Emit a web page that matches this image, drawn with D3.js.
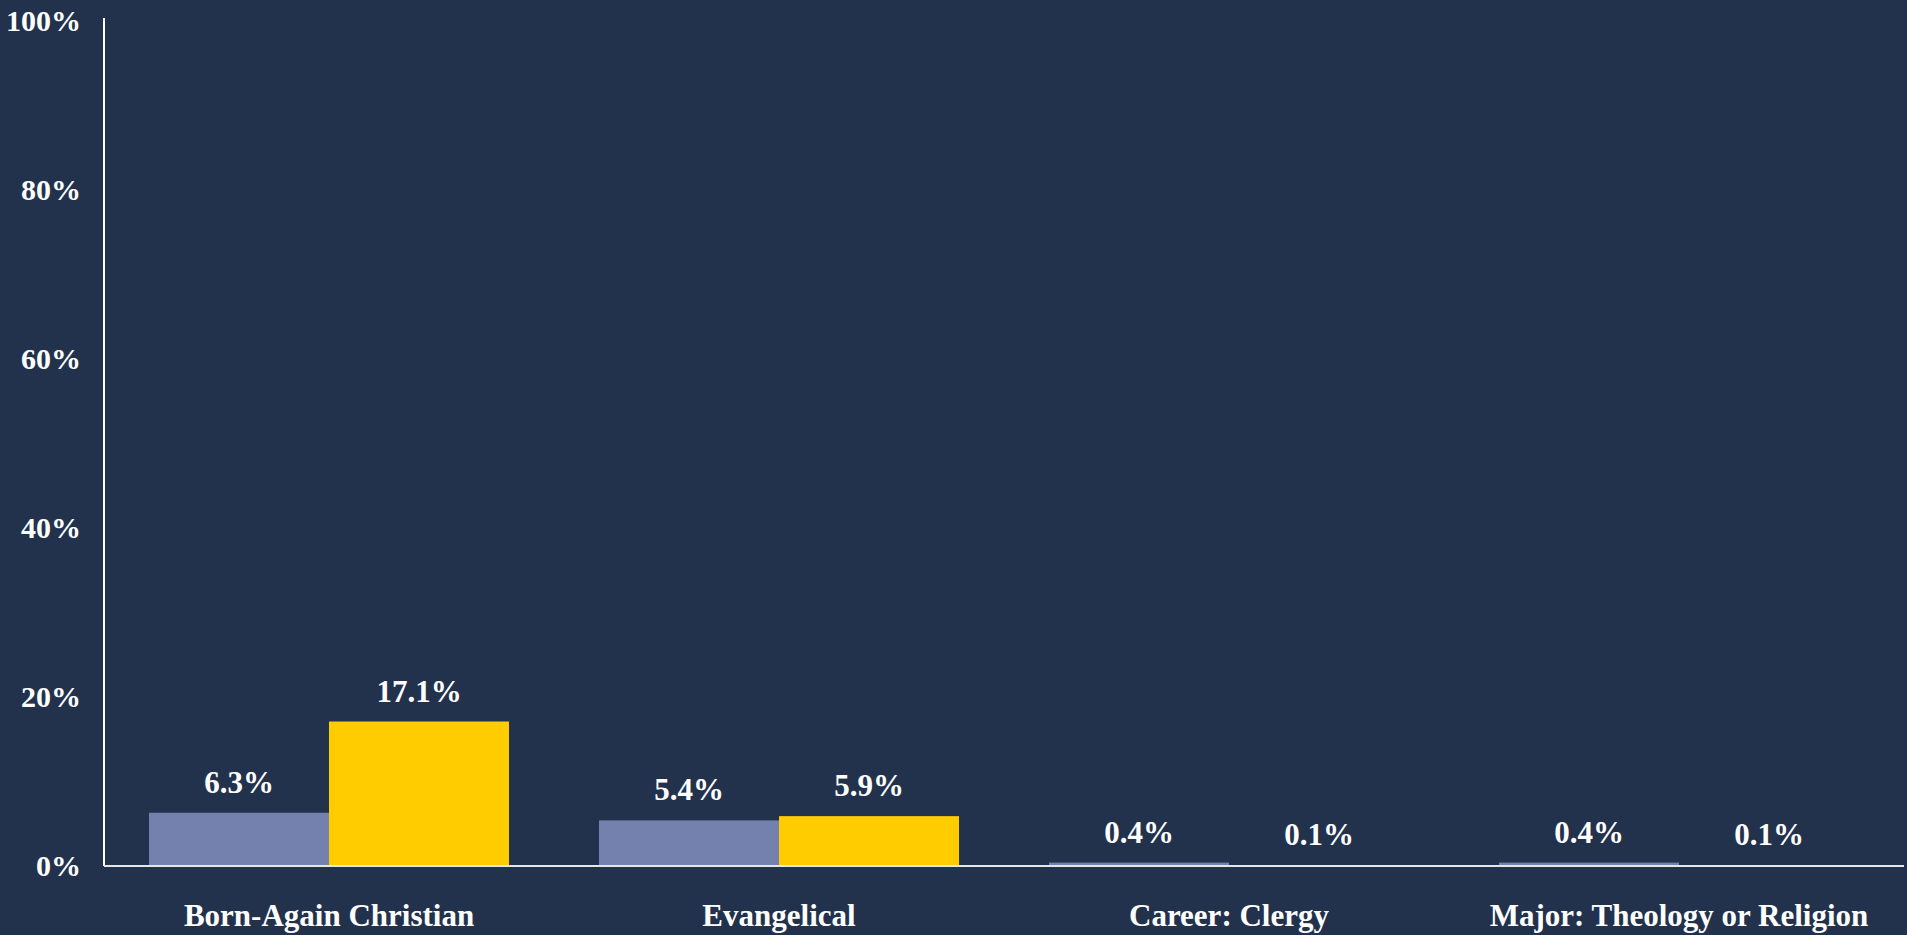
<!DOCTYPE html>
<html>
<head>
<meta charset="utf-8">
<script src="https://cdn.jsdelivr.net/npm/d3@7/dist/d3.min.js"></script>
<style>
  html, body { margin: 0; padding: 0; background: #22324d; }
  svg { display: block; }
  text { font-family: "Liberation Serif", "DejaVu Serif", serif; font-weight: bold; fill: #ffffff; }
</style>
</head>
<body>
<svg id="chart"></svg>
<script>
const categories = ["Born-Again Christian", "Evangelical", "Career: Clergy", "Major: Theology or Religion"];
const seriesNames = ["Series A", "Series B"];
const seriesA = [6.3, 5.4, 0.4, 0.4];
const seriesB = [17.1, 5.9, 0.1, 0.1];
const yTicks = [0, 20, 40, 60, 80, 100];
const colors = ["#7480ad", "#ffcc00"];

const W = 1907, H = 935;
const margin = { left: 104, right: 3, top: 21, bottom: 69 };

const svg = d3.select("#chart").attr("width", W).attr("height", H);
svg.append("rect").attr("width", W).attr("height", H).attr("fill", "#22324d");

const x0 = d3.scaleBand().domain(categories)
  .range([margin.left, W - margin.right]).paddingInner(0.2).paddingOuter(0.1);
const x1 = d3.scaleBand().domain(seriesNames).range([0, x0.bandwidth()]).padding(0);
const y = d3.scaleLinear().domain([0, 100]).range([H - margin.bottom, margin.top]);

const data = categories.map((c, i) => ({ cat: c, vals: [seriesA[i], seriesB[i]] }));

const groups = svg.append("g").selectAll("g").data(data).join("g")
  .attr("transform", d => `translate(${x0(d.cat)},0)`);

groups.selectAll("rect").data(d => d.vals.map((v, j) => ({ v, s: seriesNames[j], j })))
  .join("rect")
  .attr("x", d => x1(d.s))
  .attr("width", x1.bandwidth())
  .attr("y", d => y(d.v))
  .attr("height", d => y(0) - y(d.v))
  .attr("fill", d => colors[d.j]);

groups.selectAll("text.val").data(d => d.vals.map((v, j) => ({ v, s: seriesNames[j], j })))
  .join("text")
  .attr("class", "val")
  .attr("x", d => x1(d.s) + x1.bandwidth() / 2)
  .attr("y", d => y(d.v) - 20)
  .attr("text-anchor", "middle")
  .style("font-size", "31px")
  .text(d => d.v.toFixed(1) + "%");

// Y axis
const yAxis = d3.axisLeft(y).tickValues(yTicks).tickSize(0).tickPadding(23)
  .tickFormat(d => d + "%");
const gy = svg.append("g").attr("transform", `translate(${margin.left},0)`).call(yAxis);
gy.select(".domain").remove();
gy.selectAll("text").style("font-size", "30px").attr("fill", "#ffffff")
  .style("font-family", '"Liberation Serif", serif').style("font-weight", "bold");
gy.append("line").attr("x1", 0).attr("x2", 0).attr("y1", y(100) - 3).attr("y2", y(0))
  .attr("stroke", "#ffffff").attr("stroke-width", 2);

// X axis
const xAxis = d3.axisBottom(x0).tickSize(0).tickPadding(38);
const gx = svg.append("g").attr("transform", `translate(0,${y(0)})`).call(xAxis);
gx.select(".domain").remove();
gx.selectAll("text").style("font-size", "31px").attr("fill", "#ffffff")
  .style("font-family", '"Liberation Serif", serif').style("font-weight", "bold");
gx.append("line").attr("x1", margin.left).attr("x2", W - margin.right)
  .attr("y1", 0).attr("y2", 0).attr("stroke", "#e6e6e6").attr("stroke-width", 2);
</script>
</body>
</html>
